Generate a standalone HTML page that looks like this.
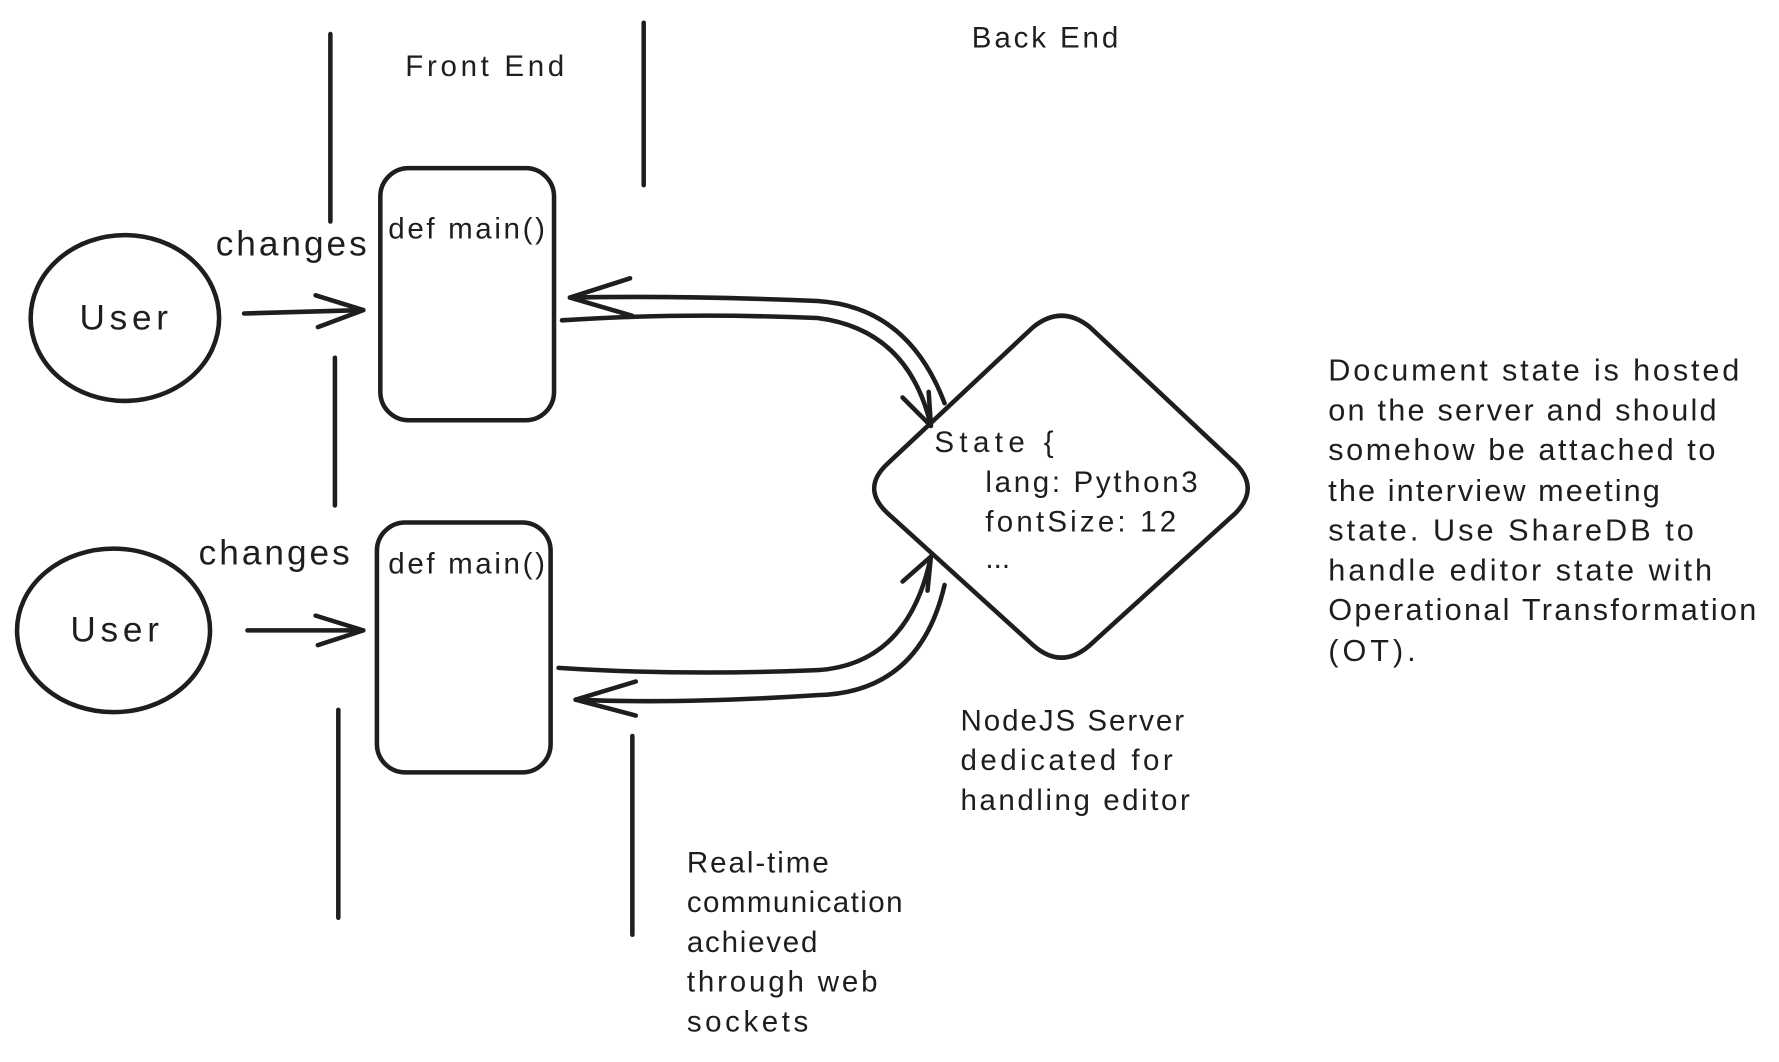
<!DOCTYPE html>
<html><head><style>
html,body{margin:0;padding:0;background:#fff;}
svg{display:block;}
text{font-family:"Liberation Sans",sans-serif;fill:#1e1e1e;}
</style></head><body>
<svg width="1779" height="1062" viewBox="0 0 1567 935" preserveAspectRatio="none" xmlns="http://www.w3.org/2000/svg">
<g stroke="#1e1e1e" stroke-width="4" fill="none" stroke-linecap="round" stroke-linejoin="round">
<line x1="291" y1="30" x2="291" y2="195"/>
<line x1="295" y1="315" x2="295" y2="445"/>
<line x1="298" y1="625" x2="298" y2="808"/>
<line x1="567" y1="20" x2="567" y2="163"/>
<line x1="557" y1="648" x2="557" y2="823"/>
<ellipse cx="110" cy="280" rx="83" ry="73"/>
<ellipse cx="100" cy="555" rx="85" ry="72"/>
<line x1="215" y1="276" x2="320" y2="273"/>
<polyline points="278,260 320,273 280,288"/>
<line x1="218" y1="555" x2="320" y2="555"/>
<polyline points="278,542 320,555 280,568"/>
<rect x="335" y="148" width="153" height="222" rx="25"/>
<rect x="332" y="460" width="153" height="220" rx="25"/>
<path d="M910,288 Q935,268 960,288 L1088,408 Q1110,430 1088,452 L960,568 Q935,590 910,568 L782,452 Q758,430 782,408 Z"/>
<path d="M495,282 Q600,275 720,280 Q800,290 820,375"/>
<polyline points="795,350 820,375 818,345"/>
<path d="M832,355 Q800,270 720,265 Q600,260 502,262"/>
<polyline points="555,245 502,262 557,278"/>
<path d="M492,588 Q600,595 720,590 Q800,585 820,490"/>
<polyline points="795,512 820,490 817,520"/>
<path d="M832,515 Q810,610 720,612 Q600,620 507,616"/>
<polyline points="560,600 507,616 560,630"/>
</g>
<g font-size="26">
<text x="357" y="67" textLength="140">Front End</text>
<text x="856" y="42" textLength="129">Back End</text>
<text x="342" y="210" textLength="138">def main()</text>
<text x="342" y="505" textLength="138">def main()</text>
<text x="823" y="398" textLength="105">State {</text>
<text x="868" y="433" textLength="187">lang: Python3</text>
<text x="868" y="468" textLength="168">fontSize: 12</text>
<text x="868" y="500">...</text>
<text x="846" y="643" textLength="197">NodeJS Server</text>
<text x="846" y="678" textLength="187">dedicated for</text>
<text x="846" y="713" textLength="202">handling editor</text>
<text x="605" y="768" textLength="125">Real-time</text>
<text x="605" y="803" textLength="190">communication</text>
<text x="605" y="838" textLength="115">achieved</text>
<text x="605" y="873" textLength="168">through web</text>
<text x="605" y="908" textLength="107">sockets</text>
</g>
<g font-size="27">
<text x="1170" y="335" textLength="362">Document state is hosted</text>
<text x="1170" y="370" textLength="342">on the server and should</text>
<text x="1170" y="405" textLength="341">somehow be attached to</text>
<text x="1170" y="441" textLength="292">the interview meeting</text>
<text x="1170" y="476" textLength="322">state. Use ShareDB to</text>
<text x="1170" y="511" textLength="338">handle editor state with</text>
<text x="1170" y="546" textLength="377">Operational Transformation</text>
<text x="1170" y="582" textLength="77">(OT).</text>
</g>
<g font-size="31">
<text x="70" y="290" textLength="78">User</text>
<text x="62" y="565" textLength="78">User</text>
<text x="190" y="225" textLength="133">changes</text>
<text x="175" y="497" textLength="133">changes</text>
</g>
</svg>
</body></html>
